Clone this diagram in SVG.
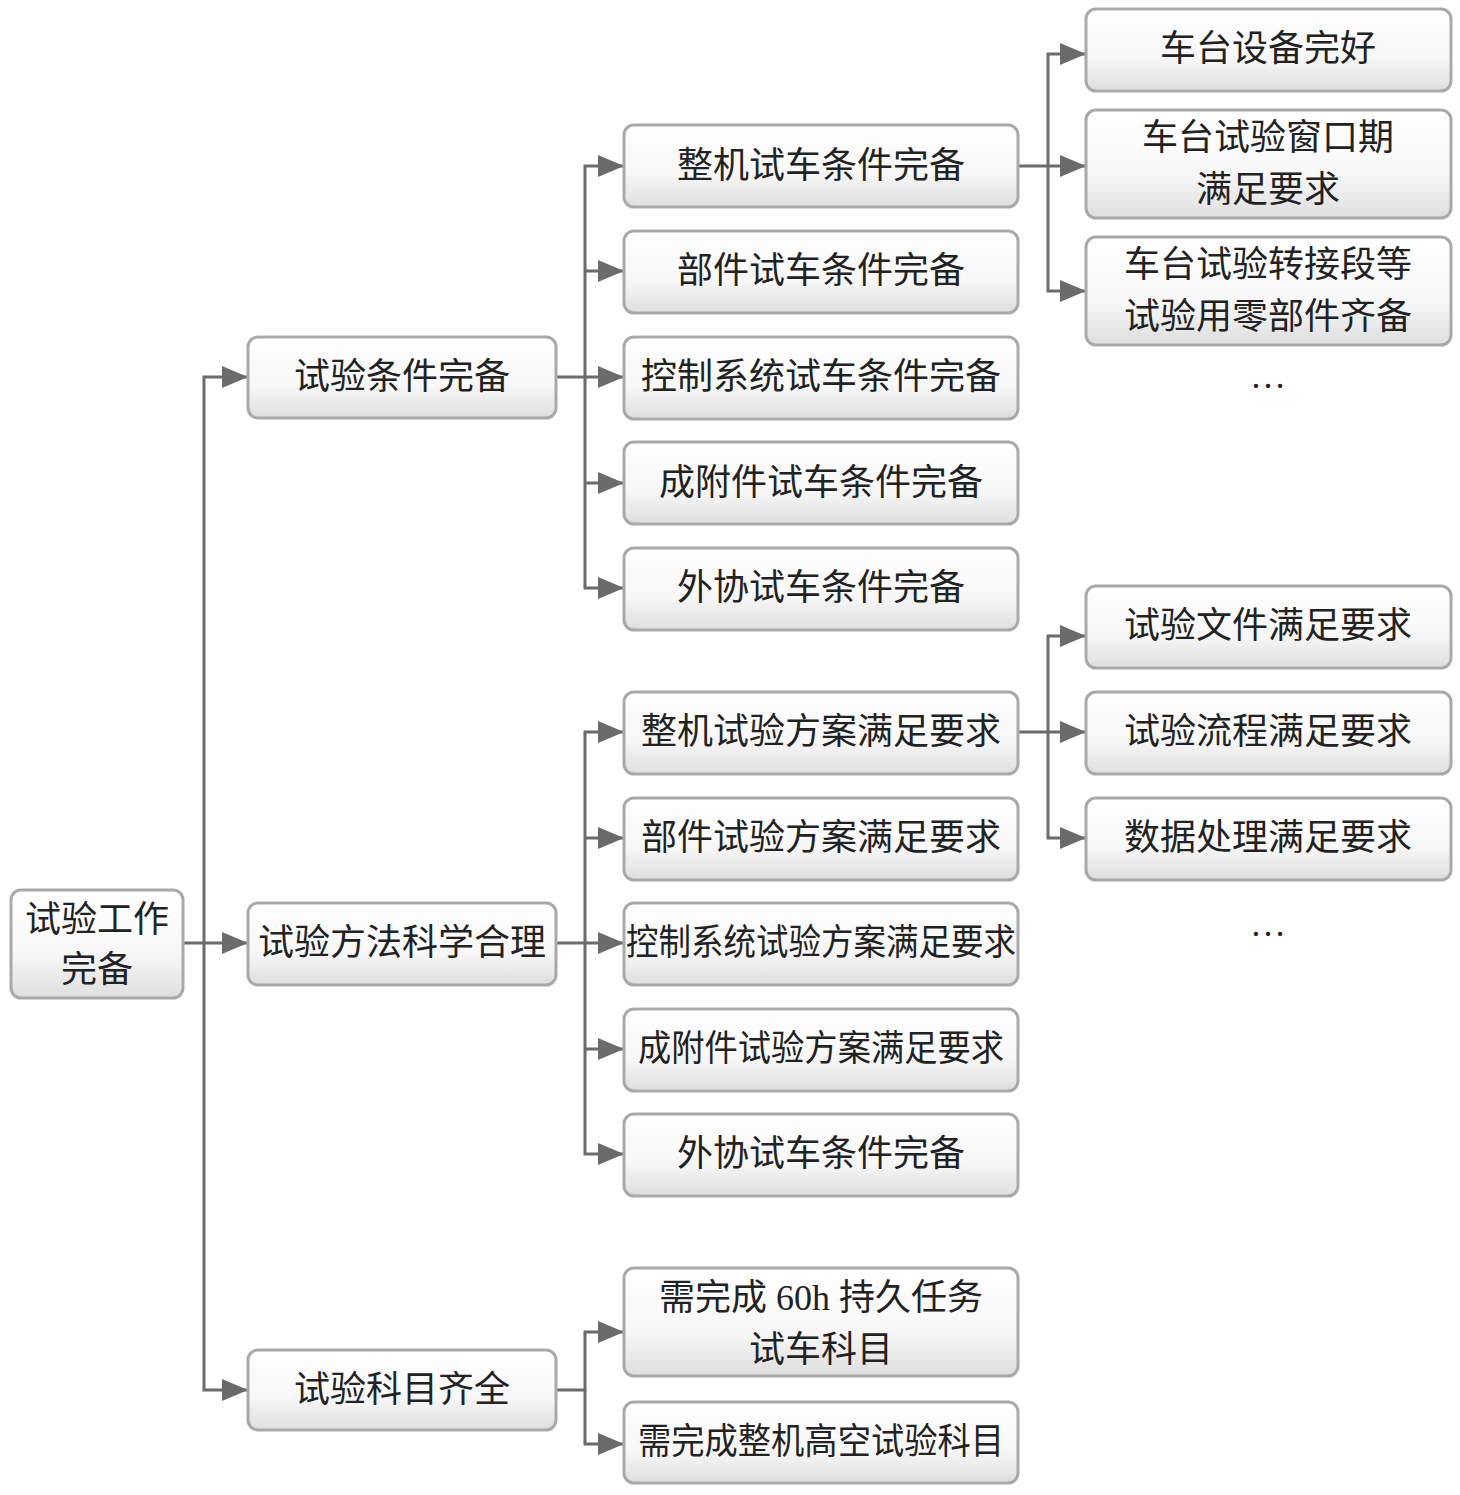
<svg xmlns="http://www.w3.org/2000/svg" width="1460" height="1495" viewBox="0 0 1460 1495">
<style>
.b{fill:url(#g);stroke:#a9a9a9;stroke-width:3}
.t{font-family:"Liberation Serif","Noto Sans CJK SC",serif;font-size:36px;fill:#222;text-anchor:middle}
.c{fill:none;stroke:#6b6b6b;stroke-width:3}
</style>
<defs>
<linearGradient id="g" x1="0" y1="0" x2="0" y2="1"><stop offset="0" stop-color="#ffffff"/><stop offset="0.6" stop-color="#f7f7f7"/><stop offset="1" stop-color="#dedede"/></linearGradient>
<marker id="a" viewBox="0 0 26 22" refX="26" refY="11" markerWidth="26" markerHeight="22" markerUnits="userSpaceOnUse" orient="auto"><path d="M0 0L26 11L0 22z" fill="#6b6b6b"/></marker>
</defs>
<rect width="1460" height="1495" fill="#fff"/>
<g id="connectors" class="c">
<path d="M183 943H248" marker-end="url(#a)"/>
<path d="M204 943V377H248" marker-end="url(#a)"/>
<path d="M204 943V1390H248" marker-end="url(#a)"/>
<path d="M556 377H624" marker-end="url(#a)"/>
<path d="M585 377V166H624" marker-end="url(#a)"/>
<path d="M585 271H624" marker-end="url(#a)"/>
<path d="M585 377V588H624" marker-end="url(#a)"/>
<path d="M585 483H624" marker-end="url(#a)"/>
<path d="M556 943H624" marker-end="url(#a)"/>
<path d="M585 943V732H624" marker-end="url(#a)"/>
<path d="M585 838H624" marker-end="url(#a)"/>
<path d="M585 943V1154H624" marker-end="url(#a)"/>
<path d="M585 1049H624" marker-end="url(#a)"/>
<path d="M556 1390H585V1332H624" marker-end="url(#a)"/>
<path d="M585 1390V1444H624" marker-end="url(#a)"/>
<path d="M1018 166H1086" marker-end="url(#a)"/>
<path d="M1048 166V54H1086" marker-end="url(#a)"/>
<path d="M1048 166V291H1086" marker-end="url(#a)"/>
<path d="M1018 732H1086" marker-end="url(#a)"/>
<path d="M1048 732V636H1086" marker-end="url(#a)"/>
<path d="M1048 732V838H1086" marker-end="url(#a)"/>
</g>
<g id="n0"><rect class="b" x="11" y="890" width="172" height="108" rx="10"/><text class="t" x="97" y="932">试验工作</text><text class="t" x="97" y="982">完备</text></g>
<g id="n1"><rect class="b" x="248" y="337" width="308" height="81" rx="10"/><text class="t" x="402" y="389">试验条件完备</text></g>
<g id="n2"><rect class="b" x="248" y="903" width="308" height="82" rx="10"/><text class="t" x="402" y="955">试验方法科学合理</text></g>
<g id="n3"><rect class="b" x="248" y="1350" width="308" height="80" rx="10"/><text class="t" x="402" y="1402">试验科目齐全</text></g>
<g id="n4"><rect class="b" x="624" y="125" width="394" height="82" rx="10"/><text class="t" x="821" y="178">整机试车条件完备</text></g>
<g id="n5"><rect class="b" x="624" y="231" width="394" height="82" rx="10"/><text class="t" x="821" y="283">部件试车条件完备</text></g>
<g id="n6"><rect class="b" x="624" y="337" width="394" height="82" rx="10"/><text class="t" x="821" y="389">控制系统试车条件完备</text></g>
<g id="n7"><rect class="b" x="624" y="442" width="394" height="82" rx="10"/><text class="t" x="821" y="495">成附件试车条件完备</text></g>
<g id="n8"><rect class="b" x="624" y="548" width="394" height="82" rx="10"/><text class="t" x="821" y="600">外协试车条件完备</text></g>
<g id="n9"><rect class="b" x="624" y="692" width="394" height="82" rx="10"/><text class="t" x="821" y="744">整机试验方案满足要求</text></g>
<g id="n10"><rect class="b" x="624" y="798" width="394" height="82" rx="10"/><text class="t" x="821" y="850">部件试验方案满足要求</text></g>
<g id="n11"><rect class="b" x="624" y="903" width="394" height="82" rx="10"/><text class="t" x="821" y="955" textLength="390" lengthAdjust="spacingAndGlyphs">控制系统试验方案满足要求</text></g>
<g id="n12"><rect class="b" x="624" y="1009" width="394" height="82" rx="10"/><text class="t" x="821" y="1061" textLength="366" lengthAdjust="spacingAndGlyphs">成附件试验方案满足要求</text></g>
<g id="n13"><rect class="b" x="624" y="1114" width="394" height="82" rx="10"/><text class="t" x="821" y="1166">外协试车条件完备</text></g>
<g id="n14"><rect class="b" x="624" y="1268" width="394" height="108" rx="10"/><text class="t" x="821" y="1310">需完成 60h 持久任务</text><text class="t" x="821" y="1362">试车科目</text></g>
<g id="n15"><rect class="b" x="624" y="1402" width="394" height="81" rx="10"/><text class="t" x="821" y="1454" textLength="366" lengthAdjust="spacingAndGlyphs">需完成整机高空试验科目</text></g>
<g id="n16"><rect class="b" x="1086" y="9" width="365" height="82" rx="10"/><text class="t" x="1268" y="61">车台设备完好</text></g>
<g id="n17"><rect class="b" x="1086" y="110" width="365" height="108" rx="10"/><text class="t" x="1268" y="150">车台试验窗口期</text><text class="t" x="1268" y="202">满足要求</text></g>
<g id="n18"><rect class="b" x="1086" y="237" width="365" height="108" rx="10"/><text class="t" x="1268" y="277">车台试验转接段等</text><text class="t" x="1268" y="329">试验用零部件齐备</text></g>
<g id="n19"><rect class="b" x="1086" y="586" width="365" height="82" rx="10"/><text class="t" x="1268" y="638">试验文件满足要求</text></g>
<g id="n20"><rect class="b" x="1086" y="692" width="365" height="82" rx="10"/><text class="t" x="1268" y="744">试验流程满足要求</text></g>
<g id="n21"><rect class="b" x="1086" y="798" width="365" height="82" rx="10"/><text class="t" x="1268" y="850">数据处理满足要求</text></g>
<text class="t" x="1268" y="388">…</text>
<text class="t" x="1268" y="936">…</text>
</svg>
